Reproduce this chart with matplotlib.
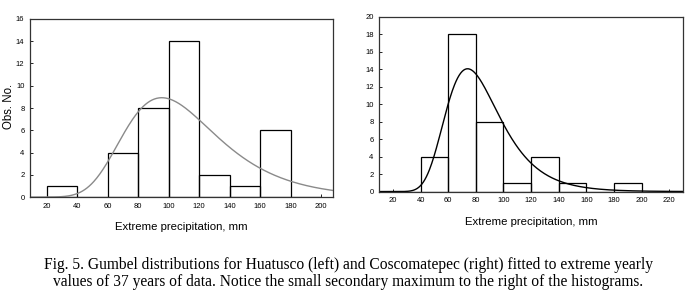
import numpy as np
import matplotlib
matplotlib.use("Agg")
import matplotlib.pyplot as plt

# bins (mm) and observed counts
bin_edges = [20, 40, 60, 80, 100, 120, 140, 160, 180, 200]
huatusco_counts = [1, 0, 4, 8, 14, 2, 1, 6, 0]
coscomatepec_counts = [0, 4, 18, 8, 1, 4, 1, 0, 1]

# fitted Gumbel parameters (location, scale) and number of years
huatusco_gumbel = (95.5, 30.5)
coscomatepec_gumbel = (74.0, 19.4)
n_years = 37
bin_width = 20

left_xticks = [20, 40, 60, 80, 100, 120, 140, 160, 180, 200]
right_xticks = [20, 40, 60, 80, 100, 120, 140, 160, 180, 200, 220]

plt.rcParams['font.family'] = ['Liberation Sans', 'DejaVu Sans']


def gumbel_curve(x, mu, beta):
    z = (x - mu) / beta
    return n_years * bin_width / beta * np.exp(-(z + np.exp(-z)))


def draw(ax, counts, params, xlim, ylim, xticks, yticks, curve_color):
    left = bin_edges[:-1]
    ax.bar(left, counts, width=bin_width, align='edge', fill=False,
           edgecolor='black', linewidth=0.9)
    x = np.linspace(xlim[0], xlim[1], 400)
    ax.plot(x, gumbel_curve(x, *params), color=curve_color, lw=1.0)
    ax.set_xlim(*xlim)
    ax.set_ylim(*ylim)
    ax.set_xticks(xticks)
    ax.set_yticks(yticks)
    ax.tick_params(direction='in', length=2, width=0.6, labelsize=5.5, pad=4,
                   top=False, right=False)
    for s in ax.spines.values():
        s.set_linewidth(0.9)
        s.set_color('#333333')
    ax.set_xlabel("Extreme precipitation, mm", fontsize=8.2, labelpad=9)


fig = plt.figure(figsize=(6.97, 3.06), dpi=100)

ax1 = fig.add_axes([0.043, 0.356, 0.435, 0.582])
draw(ax1, huatusco_counts, huatusco_gumbel, (9, 208), (0, 16),
     left_xticks, range(0, 17, 2), '#8a8a8a')
fig.text(0.004, 1 - 106 / 306, "Obs. No.", rotation=90, ha='left',
         va='center', fontsize=8.3)

ax2 = fig.add_axes([0.544, 0.374, 0.436, 0.572])
draw(ax2, coscomatepec_counts, coscomatepec_gumbel, (10, 230), (0, 20),
     right_xticks, range(0, 21, 2), 'black')

caption = ("Fig. 5. Gumbel distributions for Huatusco (left) and Coscomatepec (right) fitted to extreme yearly\n"
           "values of 37 years of data. Notice the small secondary maximum to the right of the histograms.")
fig.text(0.5, 1 - 273.5 / 306, caption, ha='center', va='center',
         fontsize=11.2, family='Liberation Serif', linespacing=1.15)

fig.savefig("out.png", dpi=100)
